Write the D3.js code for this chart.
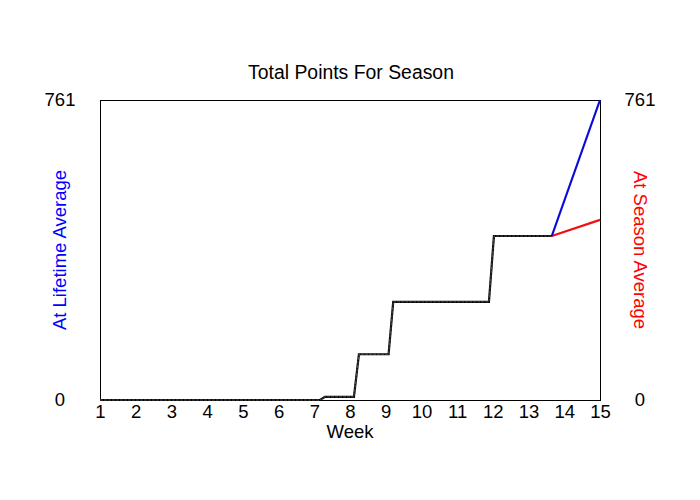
<!DOCTYPE html>
<html>
<head>
<meta charset="utf-8">
<script src="https://cdn.jsdelivr.net/npm/d3@7"></script>
<style>
body { margin: 0; background: #fff; }
text { font-family: "Liberation Sans", Arial, sans-serif; }
</style>
</head>
<body>
<svg id="chart" width="700" height="500"></svg>
<script>
// Actual season totals (week, cumulative points)
const actualWeeks  = [1, 7.16, 7.3, 8.11, 8.25, 9.08, 9.21, 11.89, 12.03, 13.65];
const actualPoints = [0, 0,    8,   8,    116,  116,  249,  249,   416,   416];
// Projection at lifetime average
const lifetimeWeeks  = [13.65, 15];
const lifetimePoints = [416, 761];
// Projection at season average
const seasonWeeks  = [13.65, 15];
const seasonPoints = [416, 457];
const weekTicks = [1,2,3,4,5,6,7,8,9,10,11,12,13,14,15];
const yTicks = [0, 761];

const svg = d3.select("#chart");
const m = {left: 100, right: 100, top: 100, bottom: 100};
const W = 700, H = 500;
const x = d3.scaleLinear().domain([1, 15]).range([m.left, W - m.right]);
const y = d3.scaleLinear().domain([0, 761]).range([H - m.bottom, m.top]);
const FS = 18.5;

// frame
svg.append("rect").attr("x", x(1) + 0.5).attr("y", y(761) + 0.5)
  .attr("width", x(15) - x(1)).attr("height", y(0) - y(761))
  .attr("fill", "none").attr("stroke", "#000").attr("stroke-width", 1)
  .attr("shape-rendering", "crispEdges");

// x axis labels
const xAxis = d3.axisBottom(x).tickValues(weekTicks).tickSize(0).tickPadding(5).tickFormat(d3.format("d"));
const gx = svg.append("g").attr("transform", `translate(0,${y(0)})`).call(xAxis);
gx.select(".domain").remove();
gx.selectAll("text").attr("font-size", FS).attr("fill", "#000").attr("font-family", "Liberation Sans, Arial, sans-serif");

// left y labels
const yl = d3.axisLeft(y).tickValues(yTicks).tickSize(0).tickPadding(24).tickFormat(d3.format("d"));
const gyl = svg.append("g").attr("transform", `translate(${x(1)},0)`).call(yl);
gyl.select(".domain").remove();
gyl.selectAll("text").attr("font-size", FS).attr("fill", "#000").attr("text-anchor", "middle").attr("x", -40).attr("font-family", "Liberation Sans, Arial, sans-serif");

const yr = d3.axisRight(y).tickValues(yTicks).tickSize(0).tickPadding(24).tickFormat(d3.format("d"));
const gyr = svg.append("g").attr("transform", `translate(${x(15)},0)`).call(yr);
gyr.select(".domain").remove();
gyr.selectAll("text").attr("font-size", FS).attr("fill", "#000").attr("text-anchor", "middle").attr("x", 40).attr("font-family", "Liberation Sans, Arial, sans-serif");

const line = d3.line().x(d => x(d[0])).y(d => y(d[1]));

const lifeData = d3.zip(lifetimeWeeks, lifetimePoints);
const seasonData = d3.zip(seasonWeeks, seasonPoints);
const actualData = d3.zip(actualWeeks, actualPoints);

svg.append("path").datum(seasonData).attr("d", line)
  .attr("fill", "none").attr("stroke", "#ee1111").attr("stroke-width", 2.2);
svg.append("path").datum(lifeData).attr("d", line)
  .attr("fill", "none").attr("stroke", "#0a0ad8").attr("stroke-width", 2.2);
svg.append("path").datum(actualData).attr("d", line)
  .attr("fill", "none").attr("stroke", "#000").attr("stroke-width", 2.2);
svg.append("path").datum(actualData).attr("d", line)
  .attr("fill", "none").attr("stroke", "#888").attr("stroke-width", 0.6).attr("stroke-dasharray", "3,1");

// titles
svg.append("text").attr("x", 351).attr("y", 79).attr("text-anchor", "middle")
  .attr("font-size", 19.4).text("Total Points For Season");
svg.append("text").attr("x", (x(1)+x(15))/2).attr("y", 438).attr("text-anchor", "middle")
  .attr("font-size", FS).text("Week");
svg.append("text").attr("transform", `translate(66,${(y(0)+y(761))/2}) rotate(-90)`)
  .attr("text-anchor", "middle").attr("font-size", FS).attr("fill", "#0000ff").text("At Lifetime Average");
svg.append("text").attr("transform", `translate(634,${(y(0)+y(761))/2}) rotate(90)`)
  .attr("text-anchor", "middle").attr("font-size", FS).attr("fill", "#ff0000").text("At Season Average");
</script>
</body>
</html>
